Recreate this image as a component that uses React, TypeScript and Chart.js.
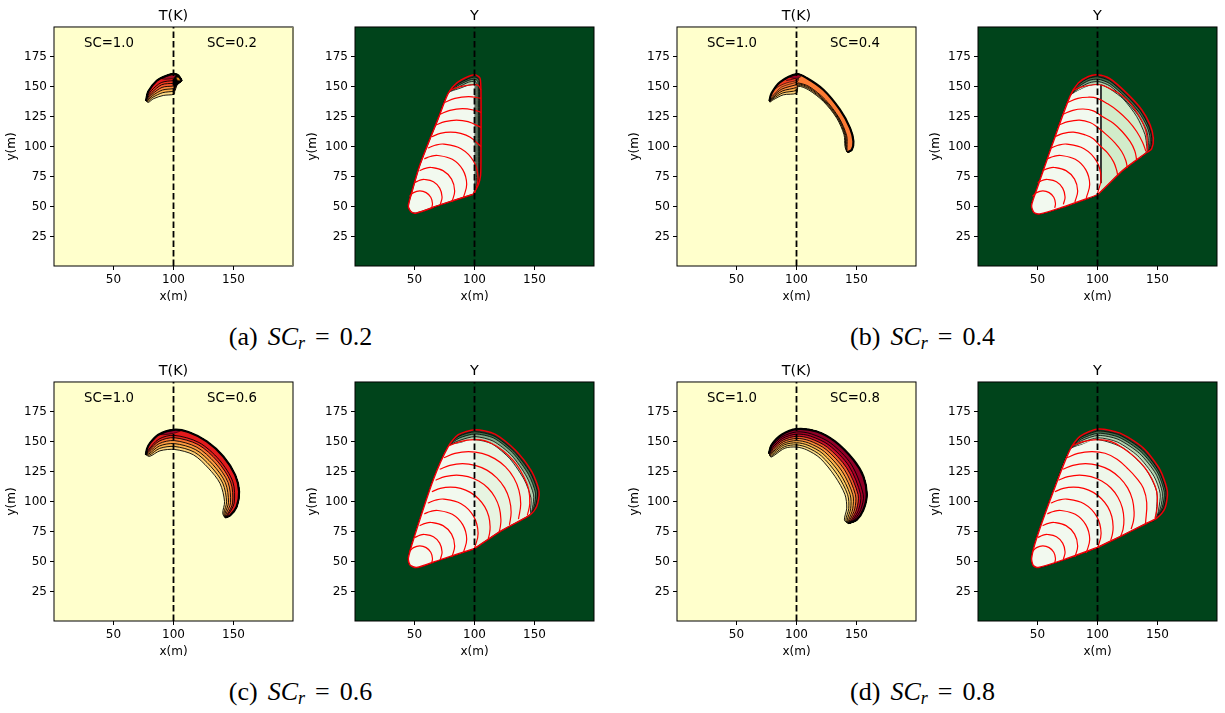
import React, { useEffect, useRef } from "react";
import { Chart, registerables } from "chart.js";

Chart.register(...registerables);

type P = number[];
const xTicks = [50, 100, 150];
const yTicks = [25, 50, 75, 100, 125, 150, 175];
const axisMin = 0.5;
const axisMax = 199.5;
const dashX = 100;

// ---------- T(K) crescents: upper edge (tip → right end), lower edges of nested levels ----------
const tOuterA: P[] = [[77.1,138],[79,145.8],[86,154.7],[93,158.5],[99.9,160.5],[104,159.2],[106.8,154.7]];
const tLevelsA: P[][] = [
  [[102.6,151.4],[101,146],[100.5,143.5],[91.5,142.5],[83.2,139.7],[79,136.7]],
  [[103,152],[101.5,147],[100.2,146],[91,144.8],[82.8,141],[78.7,137.5]],
  [[103.4,152.5],[102,149],[100.2,148.2],[90.8,147],[82.5,142.3],[78.5,138.3]],
  [[103.8,153],[102.5,151],[100.2,150.4],[90.5,149.2],[82.2,143.6],[78.3,139.2]],
  [[104.3,153.5],[103,152.8],[100.2,152.6],[90.2,151.4],[81.9,144.9],[78.2,140.2]],
  [[105,154],[103,154.3],[100.2,154.8],[89.8,153.2],[81.6,146.5],[78,141]],
];
const tCapsA: P[][] = [
  [[100.2,160.3],[104,159.2],[106.8,154.7],[104,152],[102,150],[100.5,146]],
  [[102,157.5],[105,157.5],[106,155],[103.5,155]],
  [[90,156.5],[99.9,160.5],[102,159.8],[100.2,157],[93,156]],
];
const tColoursA = ["#fedb85","#feb24c","#fd8d3c","#fc5a2d","#f03b20","#e31a1c"];
const tCapColoursA = ["#000000","#e08a20","#a50f26"];

const tOuterB: P[] = [[77.4,138],[79.3,144.4],[86.3,153.6],[100.1,160.3],[108.5,157],[122.4,147.2],[136.2,130.6],[144.6,115.3],[147.4,104.2],[146,97.2],[142.4,95.3]];
const tLevelsB: P[][] = [
  [[140.4,100],[139.6,109.7],[133.5,123.6],[122.4,137.5],[109.9,147.2],[101.5,150],[100.1,144.4],[89,143],[80.7,138.9],[77.9,137]],
  [[141,99.7],[140.3,109.4],[134.2,123.6],[122.9,137.9],[110.2,148.1],[101.5,151],[100.1,146.8],[88.6,144.6],[80.5,139.7],[77.8,137.2]],
  [[141.5,99.4],[141,109.2],[134.9,123.7],[123.4,138.4],[110.4,149],[101.5,152],[100.1,149.2],[88.2,146.2],[80.3,140.5],[77.7,137.4]],
  [[142.1,99.2],[141.8,108.9],[135.5,123.7],[124,138.9],[110.7,149.8],[101.5,152.9],[100.1,151.6],[87.8,147.8],[80.2,141.4],[77.6,137.8]],
];
const tCapsB: P[][] = [
  [[100.1,153.5],[87.4,149.4],[80,142.2],[79.3,144.4],[86.3,153.6],[100.1,160.3],[101.5,159],[101.5,155]],
  [[81.5,147.5],[86.3,153.6],[100.1,160.3],[100.5,155.5],[92,153],[86,150.5]],
  [[90,156.5],[100.1,160.3],[100.5,157.5],[92,155]],
  [[94,158],[100.1,160.3],[104,158.8],[101,156.8],[96,157]],
];
const tColoursB = ["#fed37a","#feb24c","#fd8d3c","#fc7a33"];
const tCapColoursB = ["#f96a2e","#f03b20","#e31a1c","#9f0026"];

const tOuterC: P[] = [[77,139],[78,144],[80.4,148.6],[87.4,155.6],[100,159.7],[112.4,157.8],[127.7,150],[141.5,137.5],[151.3,122.2],[154.6,108.3],[152.6,95.8],[147.1,88.3],[143,86.7]];
const tLevelsC: P[][] = [
  [[141,90.3],[142.5,100],[138.75,115],[129,127.8],[116.5,138.9],[101,143.3],[88.75,142.2],[80,137.5]],
  [[141.9,90],[144.2,99.7],[141,115.3],[130.9,129.3],[117.5,141],[100.9,145.8],[88.5,144.2],[79.7,138.5]],
  [[142.8,89.7],[145.8,99.4],[143.2,115.6],[132.8,130.7],[118.5,143.1],[100.7,148.2],[88.3,146.2],[79.4,139.5]],
  [[143.7,89.4],[147.5,99.1],[145.4,115.9],[134.6,132.2],[119.4,145.2],[100.6,150.7],[88.1,148.2],[79.1,140.4]],
  [[144.7,89.1],[149.2,98.8],[147.6,116.2],[136.5,133.6],[120.4,147.4],[100.4,153.1],[88,150.2],[78.8,141.4]],
  [[145.4,88.9],[150.5,98.6],[149.4,116.4],[138,134.8],[121.2,149.1],[100.3,155.1],[87.8,151.9],[78.6,142.2]],
];
const tCapsC: P[][] = [
  [[88,155.8],[100,159.7],[106,159],[100.2,156.8],[92,155.6]],
];
const tColoursC = ["#fed37a","#fdb24c","#fd9a41","#f9712f","#e8261e","#e31a1c"];
const tCapColoursC = ["#9f0026"];

const tOuterD: P[] = [[77.1,140.3],[79.3,147.2],[87.6,155.6],[100.1,160.3],[116.8,158.3],[132.1,150],[147.4,134.7],[155.7,120.8],[158.5,105.6],[155.7,93.1],[150.1,84.7],[143.2,81.9]];
const tLevelsD: P[][] = [
  [[139.9,84.7],[141.8,94.4],[140.4,105.6],[132.1,120.8],[119.6,136.1],[108.5,143],[100.1,145.3],[90.4,144.4],[82.1,138.9],[78.7,137]],
  [[141.1,84.7],[143.5,94.2],[142.6,105.6],[134,122.3],[120.8,137.9],[109,144.9],[100.1,147.1],[90.1,145.7],[81.8,139.9],[78.5,137.5]],
  [[142.3,84.7],[145.1,94.1],[144.7,105.6],[135.9,123.7],[122.1,139.7],[109.6,146.8],[100.1,148.9],[89.7,147.1],[81.4,140.9],[78.3,138]],
  [[143.5,84.7],[146.8,93.9],[146.9,105.6],[137.9,125.2],[123.3,141.5],[110.1,148.7],[100.1,150.7],[89.4,148.4],[81.1,141.9],[78,138.5]],
  [[144.7,85],[148.5,93.8],[149.1,105.6],[139.8,126.7],[124.6,143.3],[110.7,150.6],[100.1,152.5],[89.1,149.8],[80.8,142.9],[77.8,139]],
  [[145.9,85],[150.1,93.6],[151.3,105.6],[141.7,128.1],[125.8,145.1],[111.2,152.5],[100.1,154.3],[88.7,151.1],[80.4,143.9],[77.6,139.5]],
  [[147.1,85],[151.8,93.5],[153.4,105.6],[143.6,129.6],[127.1,146.9],[111.7,154.4],[100.1,156.1],[88.4,152.5],[80.1,144.9]],
  [[148.3,85],[153.5,93.3],[155.6,105.6],[145.5,131.1],[128.3,148.7],[112.3,156.3],[100.1,157.9],[88,153.8],[79.7,145.9]],
];
const tCapsD: P[][] = [];
const tColoursD = ["#fee08a","#fecb63","#fdb04a","#fd8d3c","#f0582a","#c9102a","#a80026","#8f0027"];
const tCapColoursD: string[] = [];

// ---------- Y panels: shared left/bottom edge, nested top/right boundaries, red arcs ----------
const yInnerArcs: P[][] = [
  [[45.9,58.5],[49.25,61.6],[54.5,63],[59.75,61.6],[63.6,57.75],[65,52.5],[64.4,48.9]],
  [[50.2,69.9],[54.7,72],[58.5,72.5],[65.8,70.6],[71,65.3],[73,58],[71.6,51.9]],
  [[54.3,79.9],[59,81.8],[64,82.5],[73.8,79.9],[80.9,72.8],[83.5,63],[81.2,53.8]],
  [[58.2,89.7],[63.3,91.7],[69.5,92.5],[81.5,89.3],[90.3,80.5],[93.5,68.5],[90.7,57.2]],
  [[61.1,98.7],[67.1,101],[74.5,102],[88.8,98.2],[99.2,87.8],[103,73.5],[99.9,60.6]],
];

const yEdgeA: P[] = [[99,60.3],[71.3,51.4],[51.8,44.7],[47.6,45.3],[44.9,50],[47.6,61.1],[54.6,84.7],[69.9,123.6],[78.2,144.4]];
const yLayersA: P[][] = [
  [[85.1,152.8],[94.9,158.3],[100.4,159.7],[104.6,156.9],[105.4,143],[105.4,95.8],[105.1,76.4],[103.2,68.1]],
  [[85.5,151.5],[95,156.5],[100.4,157.8],[103.8,155.5],[104.3,143],[104.3,95.8],[104,77],[102.4,68]],
  [[86,150.5],[95,155],[100.3,156],[102.8,154],[103.2,143],[103.2,96],[103,77],[101.6,66]],
  [[87,149.5],[95,153.5],[100.2,154.2],[101.8,152.5],[102,143],[102,96],[101.8,77],[100.8,65]],
  [[88,148.5],[95,151],[100,151.5],[100.5,150],[100.5,143],[100.5,96],[100.5,77],[100,64]],
];
const yArcsA: P[][] = [
  ...yInnerArcs,
  [[64.5,108.1],[71.5,110.9],[80,112],[88.5,110.9],[96.5,107.6],[105.4,100]],
  [[67.6,117.7],[75.4,120.7],[85,122],[94.6,120.7],[105.4,115.9]],
  [[71,126.8],[79.5,130.1],[90,131.5],[100.5,130.1],[105.4,128.4]],
  [[74.6,136.4],[83.7,140],[95,141.5],[105.4,140.2]],
  [[78.9,146.4],[88,149.9],[100,151.5],[103,151],[105.4,147]],
];
const yLeftPaleA: P[] = [];
const yDividerA: P[] = [];

const yEdgeB: P[] = [[99.9,59.7],[70.1,49.2],[52.1,43.9],[47.1,45],[45.1,50.8],[49.3,63.9],[61.8,100],[77.1,141.7]];
const yLayersB: P[][] = [
  [[84,152.8],[92.4,158.3],[99.9,159.7],[110.4,156.4],[124.3,144.4],[136.8,130.6],[143.8,118],[146.5,107],[145.1,98],[141,95],[121.5,80.5],[106.3,65.8]],
  [[84.3,151.5],[92.6,156.8],[100,158],[110,154.8],[123.5,143],[135.8,129.5],[142.6,117],[145.2,107],[144,98.5],[141,95],[121.5,80.5],[106.3,65.8]],
  [[84.6,150],[93,155],[100.5,156],[110,152.5],[122.8,141.5],[134.8,128],[141.5,116],[143.8,107],[143,98],[141,95],[121.5,80.5],[106.3,65.8]],
  [[85,148.8],[93.2,153],[101,154],[110.5,150.3],[122.3,139.5],[133.5,126.5],[140.7,113.5],[142.3,105],[142,97],[141,95],[121.5,80.5],[106.3,65.8]],
  [[85.4,147.2],[93.7,150.6],[103,151.4],[111,147.5],[121.5,139.5],[132.6,125],[139.5,110],[141,100],[141,95.5],[121.5,80.5],[106.3,65.8]],
];
const yArcsB: P[][] = [
  ...yInnerArcs,
  [[64.5,108.1],[71.5,110.9],[80,112],[89.6,109.7],[96.5,106.5],[102.1,100.6],[108.5,94.5],[113.5,87],[116,80],[116.8,75.8]],
  [[67.6,117.7],[75.4,120.7],[85,122],[93.8,120],[100,116],[107.6,109.7],[114.5,103],[120.1,95.8],[123.5,88.5],[124.9,82]],
  [[71,126.8],[79.5,130.1],[88,131.2],[96.5,129.7],[104,125],[113.2,119.4],[120.5,112.5],[127.1,104.2],[131,96.5],[132.6,88.9]],
  [[74.6,136.4],[83.7,140],[92,141],[99.3,140.3],[108.5,135.5],[117.4,129.2],[125.5,121.5],[132.6,112.5],[137.5,103.5],[140.4,95.8]],
  [[78.9,146.4],[85,149],[92.4,150.8],[102.1,151.4],[112,147.3],[121.5,141.7],[128.5,134.5],[134,126.4],[138.5,118],[141,109.7],[141.5,96.4]],
];
const yLeftPaleB: P[] = [[85.4,147.2],[93.7,150.6],[102.9,151.2],[102.9,70],[102,62]];
const yDividerB: P[] = [[102.9,151.2],[102.9,69.5]];

const yEdgeC: P[] = [[99.6,60.6],[71.2,51.4],[51.8,45],[46.3,47.2],[44.9,52.8],[50.4,72.2],[65.7,118.1],[78.2,145.8]];
const yLayersC: P[][] = [
  [[86.5,155.6],[100.4,159.7],[117.1,156.1],[133.7,143.1],[147.6,125],[153.8,108.3],[151.8,95.8],[146.2,88.9],[121.2,75]],
  [[87,154.3],[100.4,158],[116.5,154.4],[132.8,141.8],[146.4,124],[152.4,108],[150.8,96.3],[146.2,89],[121.2,75]],
  [[87.2,152.7],[100.4,156.2],[116,152.8],[131.8,140.5],[145,122.5],[150.8,107],[149.6,96],[146.2,89],[121.2,75]],
  [[87.5,150.8],[100.4,154],[115.5,150.3],[130.8,138.5],[143.5,120.5],[149.2,105.5],[148.3,95],[146.2,89],[121.2,75]],
  [[87.9,148.6],[100.4,151.4],[114.5,148],[129.5,135.5],[141.5,118],[147,103],[146.6,93],[146.2,89],[121.2,75]],
];
const yArcsC: P[][] = [
  ...yInnerArcs,
  [[64.5,108.1],[71.5,110.9],[80,112],[88.5,110.9],[96.5,107.6],[103.3,102.3],[108.6,95.5],[111.9,87.5],[113,79],[112.5,73.3],[111.4,68.8]],
  [[67.6,117.7],[75.4,120.7],[85,122],[94.6,120.7],[103.5,117],[111.2,111.2],[117,103.5],[120.7,94.6],[122,85],[121.5,79],[120.4,74.2]],
  [[71,126.8],[79.5,130.1],[90,131.5],[100.5,130.1],[110.3,126.1],[118.6,119.6],[125.1,111.3],[129.1,101.5],[130.5,91],[129.1,80.5]],
  [[74.6,136.4],[83.7,140],[95,141.5],[106.3,140],[116.8,135.7],[125.8,128.8],[132.7,119.8],[137,109.3],[138.5,98],[136.6,85.3]],
  [[78.9,146.4],[88,149.9],[100,151.5],[109,150.5],[118.5,146],[128,138.5],[135.5,130],[141,120.5],[145,110.5],[146,98],[144,88.5]],
];
const yLeftPaleC: P[] = [[87.9,148.6],[100.4,151.4],[100.4,61]];
const yDividerC: P[] = [];

const yEdgeD: P[] = [[99.9,61.7],[71.5,51.4],[50.7,45],[46.5,46.7],[45.1,52.8],[49.3,69.4],[63.2,108.3],[77.1,143.1]];
const yLayersD: P[][] = [
  [[85.4,154.2],[100.7,160.3],[118.8,156.9],[138.2,144.4],[152.1,126.4],[158.2,108.3],[156.2,94.4],[149.3,86.1],[141,81.9],[118.8,70.8]],
  [[85.8,153],[100.7,158.6],[118.3,155.3],[137.3,143],[150.9,125.5],[156.9,108],[155,95],[149,86.5],[141,81.9],[118.8,70.8]],
  [[86.2,151.8],[100.7,156.8],[117.8,153.5],[136.2,141.5],[149.8,124.5],[155.6,107.5],[153.8,95],[148.8,86.5],[141,81.9],[118.8,70.8]],
  [[86.6,150.6],[100.7,155],[117,151.8],[135,140],[148.6,123],[154,107],[152.4,94.5],[148.5,86.5],[141,81.9],[118.8,70.8]],
  [[87,149],[100.7,153],[116.5,149.5],[133.5,138],[147,121],[152.2,106.5],[150.8,93],[148.3,85],[141,81.9],[118.8,70.8]],
  [[87.5,147.5],[100.7,151.4],[121.5,144.4],[139.6,127.8],[149.3,108.3],[149,92],[147.9,85],[141,81.9],[118.8,70.8]],
];
const yArcsD: P[][] = [
  ...yInnerArcs,
  [[64.5,108.1],[71.5,110.9],[80,112],[88.5,110.9],[96.5,107.6],[103.3,102.3],[108.6,95.5],[111.9,87.5],[113,79],[112.5,73.3],[111,67.7]],
  [[67.6,117.7],[75.4,120.7],[85,122],[94.6,120.7],[103.5,117],[111.2,111.2],[117,103.5],[120.7,94.6],[122,85],[121.3,77],[119.3,71.1]],
  [[71,126.8],[79.5,130.1],[90,131.5],[100.5,130.1],[110.3,126.1],[118.6,119.6],[125.1,111.3],[129.1,101.5],[130.5,91],[130,84],[128,77]],
  [[74.6,136.4],[83.7,140],[95,141.5],[106.3,140.2],[116.3,135.2],[125,127.5],[132.5,119.5],[138.2,111],[141,99],[140,82]],
  [[78.9,146.4],[88,149.9],[100,151.5],[111,150],[121.5,144.4],[131.5,136.5],[139.6,127.8],[145.5,118.5],[149.3,108.3],[149.8,96],[147.9,86]],
];
const yLeftPaleD: P[] = [[87.5,147.5],[100.7,151.4],[100.7,61.7]];
const yDividerD: P[] = [];

const yBandColours = ["#1a3a26","#3f6e4a","#7fa986","#b3d3b0","#d9edd3","#e4f3df"];
const yRightPale = ["#f2f9ef", "#d2ecca", "#e7f4e1", "#eef7ea"];
const yLeftPale = "#f2f9ef";

const scLeft = "SC=1.0";
const scRight = ["SC=0.2", "SC=0.4", "SC=0.6", "SC=0.8"];
const captionLetters = ["(a)", "(b)", "(c)", "(d)"];
const captionValues = ["0.2", "0.4", "0.6", "0.8"];

const tSets = [
  { outer: tOuterA, levels: tLevelsA, caps: tCapsA, colours: tColoursA, capColours: tCapColoursA },
  { outer: tOuterB, levels: tLevelsB, caps: tCapsB, colours: tColoursB, capColours: tCapColoursB },
  { outer: tOuterC, levels: tLevelsC, caps: tCapsC, colours: tColoursC, capColours: tCapColoursC },
  { outer: tOuterD, levels: tLevelsD, caps: tCapsD, colours: tColoursD, capColours: tCapColoursD },
];
const ySets = [
  { edge: yEdgeA, layers: yLayersA, arcs: yArcsA, leftPale: yLeftPaleA, divider: yDividerA },
  { edge: yEdgeB, layers: yLayersB, arcs: yArcsB, leftPale: yLeftPaleB, divider: yDividerB },
  { edge: yEdgeC, layers: yLayersC, arcs: yArcsC, leftPale: yLeftPaleC, divider: yDividerC },
  { edge: yEdgeD, layers: yLayersD, arcs: yArcsD, leftPale: yLeftPaleD, divider: yDividerD },
];

// ---------- layout ----------
const axesLefts = [54, 355, 677, 978];
const axesTops = [26.5, 381.5];
const axesSize = 239;
const gutterLeft = 50;
const gutterTop = 26;
const gutterBottom = 50;
const gutterRight = 10;
const canvasW = gutterLeft + axesSize + gutterRight;
const canvasH = gutterTop + axesSize + gutterBottom;

const toPts = (a: P[]) => a.map(([x, y]) => ({ x, y }));
const closed = (a: P[]) => toPts([...a, a[0]]);

const base = { showLine: true, pointRadius: 0, pointHoverRadius: 0, parsing: false as const };
const shape = (data: any[], fillColour: string, border: string, width: number, tension = 0.3) => ({
  ...base, data, fill: "shape", backgroundColor: fillColour, borderColor: border, borderWidth: width, tension,
});
const line = (data: any[], border: string, width: number, tension = 0.4, dash: number[] = []) => ({
  ...base, data, fill: false, borderColor: border, borderWidth: width, tension, borderDash: dash,
});
const dashLine = () => line([{ x: dashX, y: axisMin }, { x: dashX, y: axisMax }], "#000000", 1.8, 0, [6.6, 2.9]);

function tDatasets(i: number) {
  const s = tSets[i];
  const out: any[] = [];
  s.levels.forEach((lv, k) => out.push(shape(closed([...s.outer, ...lv]), s.colours[k], "#000000", 0.9)));
  s.caps.forEach((c, k) => out.push(shape(closed(c), s.capColours[k], "#000000", 0.6)));
  out.push(line(toPts(s.outer), "#000000", 2.2, 0.3));
  out.push(dashLine());
  return out.reverse();
}

function yDatasets(i: number) {
  const s = ySets[i];
  const out: any[] = [];
  const last = s.layers.length - 1;
  s.layers.forEach((lv, k) => {
    const colour = k === last ? yRightPale[i] : yBandColours[k];
    out.push(shape(closed([...s.edge, ...lv]), colour, "#000000", 0.8, 0.25));
  });
  if (s.leftPale.length) out.push(shape(closed([...s.edge, ...s.leftPale]), yLeftPale, yLeftPale, 0, 0.2));
  if (s.divider.length) out.push(line(toPts(s.divider), "#222222", 1, 0));
  s.arcs.forEach((a) => out.push(line(toPts(a), "#ff0000", 1.2, 0.4)));
  out.push(line(closed([...s.edge, ...s.layers[0]]), "#f00008", 1.5, 0.25));
  out.push(dashLine());
  return out.reverse();
}

function PanelChart(props: { left: number; top: number; kind: "T" | "Y"; index: number }) {
  const ref = useRef<HTMLCanvasElement>(null);
  useEffect(() => {
    const { kind, index } = props;
    const bg = kind === "T" ? "#ffffcc" : "#00441b";
    const plugin = {
      id: "panelDress",
      beforeDraw(c: any) {
        // centre the title block over the axes rather than the whole canvas
        const a = c.chartArea;
        if (c.titleBlock) {
          c.titleBlock.left = a.left;
          c.titleBlock.right = a.right;
        }
      },
      beforeDatasetsDraw(c: any) {
        const a = c.chartArea;
        c.ctx.save();
        c.ctx.fillStyle = bg;
        c.ctx.fillRect(a.left, a.top, a.right - a.left, a.bottom - a.top);
        c.ctx.restore();
      },
      afterDraw(c: any) {
        const a = c.chartArea;
        const g = c.ctx;
        g.save();
        g.strokeStyle = "#000000";
        g.lineWidth = 1;
        g.strokeRect(a.left, a.top, a.right - a.left, a.bottom - a.top);
        if (kind === "T" && index === 0) {
          g.strokeStyle = "#7f7f66";
          g.lineWidth = 2;
          g.beginPath();
          g.moveTo(a.right, a.top);
          g.lineTo(a.right, a.bottom);
          g.stroke();
        }
        if (kind === "T") {
          g.fillStyle = "#000000";
          g.font = '13.3px "DejaVu Sans"';
          g.textAlign = "center";
          g.textBaseline = "middle";
          const yy = c.scales.y.getPixelForValue(185.6);
          g.fillText(scLeft, c.scales.x.getPixelForValue(46.3), yy);
          g.fillText(scRight[index], c.scales.x.getPixelForValue(148.7), yy);
        }
        g.restore();
      },
    };
    const axis = (ticks: number[], label: string, horizontal: boolean) => ({
      type: "linear",
      min: axisMin,
      max: axisMax,
      afterBuildTicks: (s: any) => { s.ticks = ticks.map((value) => ({ value })); },
      afterFit: (s: any) => { if (horizontal) s.height = gutterBottom; else s.width = gutterLeft; },
      grid: { drawOnChartArea: false, drawTicks: true, tickLength: 4, tickColor: "#000000", tickWidth: 1 },
      border: { display: false },
      ticks: { color: "#000000", font: { size: 12 }, padding: 3, maxRotation: 0, autoSkip: false, includeBounds: false },
      title: {
        display: true,
        text: label,
        color: "#000000",
        font: { size: 12 },
        padding: horizontal ? { top: 0, bottom: 12.3 } : { top: 0.8, bottom: 0 },
      },
    });
    const chart = new Chart(ref.current as HTMLCanvasElement, {
      type: "scatter",
      data: { datasets: kind === "T" ? tDatasets(index) : yDatasets(index) },
      options: {
        animation: false,
        responsive: false,
        maintainAspectRatio: false,
        events: [],
        layout: { padding: { right: gutterRight, left: 0, top: 0, bottom: 0 } },
        plugins: {
          legend: { display: false },
          tooltip: { enabled: false },
          title: {
            display: true,
            text: kind === "T" ? "T(K)" : "Y",
            color: "#000000",
            font: { size: 14.4, weight: "normal" },
            padding: { top: 6.2, bottom: 2.5 },
          },
        },
        scales: { x: axis(xTicks, "x(m)", true), y: axis(yTicks, "y(m)", false) },
      } as any,
      plugins: [plugin],
    } as any);
    return () => chart.destroy();
  }, []);
  return (
    <canvas
      ref={ref}
      width={canvasW}
      height={canvasH}
      style={{ position: "absolute", left: props.left - gutterLeft, top: props.top - gutterTop, width: canvasW, height: canvasH }}
    />
  );
}

Chart.defaults.font.family = '"DejaVu Sans"';

const captionPos = [
  { left: 300.5, top: 338 },
  { left: 922.5, top: 338 },
  { left: 300.5, top: 692.5 },
  { left: 922.5, top: 692.5 },
];

export default function App() {
  const panels = [0, 1, 2, 3];
  return (
    <div style={{ position: "absolute", left: 0, top: 0, width: 1225, height: 713, background: "#ffffff", overflow: "hidden" }}>
      {panels.map((i) => (
        <React.Fragment key={i}>
          <PanelChart left={axesLefts[i % 2 === 0 ? 0 : 2]} top={axesTops[i < 2 ? 0 : 1]} kind="T" index={i} />
          <PanelChart left={axesLefts[i % 2 === 0 ? 1 : 3]} top={axesTops[i < 2 ? 0 : 1]} kind="Y" index={i} />
          <div
            style={{
              position: "absolute",
              left: captionPos[i].left,
              top: captionPos[i].top,
              transform: "translate(-50%,-50%)",
              fontFamily: '"Liberation Serif", serif',
              fontSize: 26,
              lineHeight: "28px",
              wordSpacing: 3.5,
              whiteSpace: "nowrap",
              color: "#000",
            }}
          >
            {captionLetters[i]}{" "}
            <i>SC</i>
            <i style={{ fontSize: 18, position: "relative", top: 4 }}>r</i>
            {" = "}
            {captionValues[i]}
          </div>
        </React.Fragment>
      ))}
    </div>
  );
}
